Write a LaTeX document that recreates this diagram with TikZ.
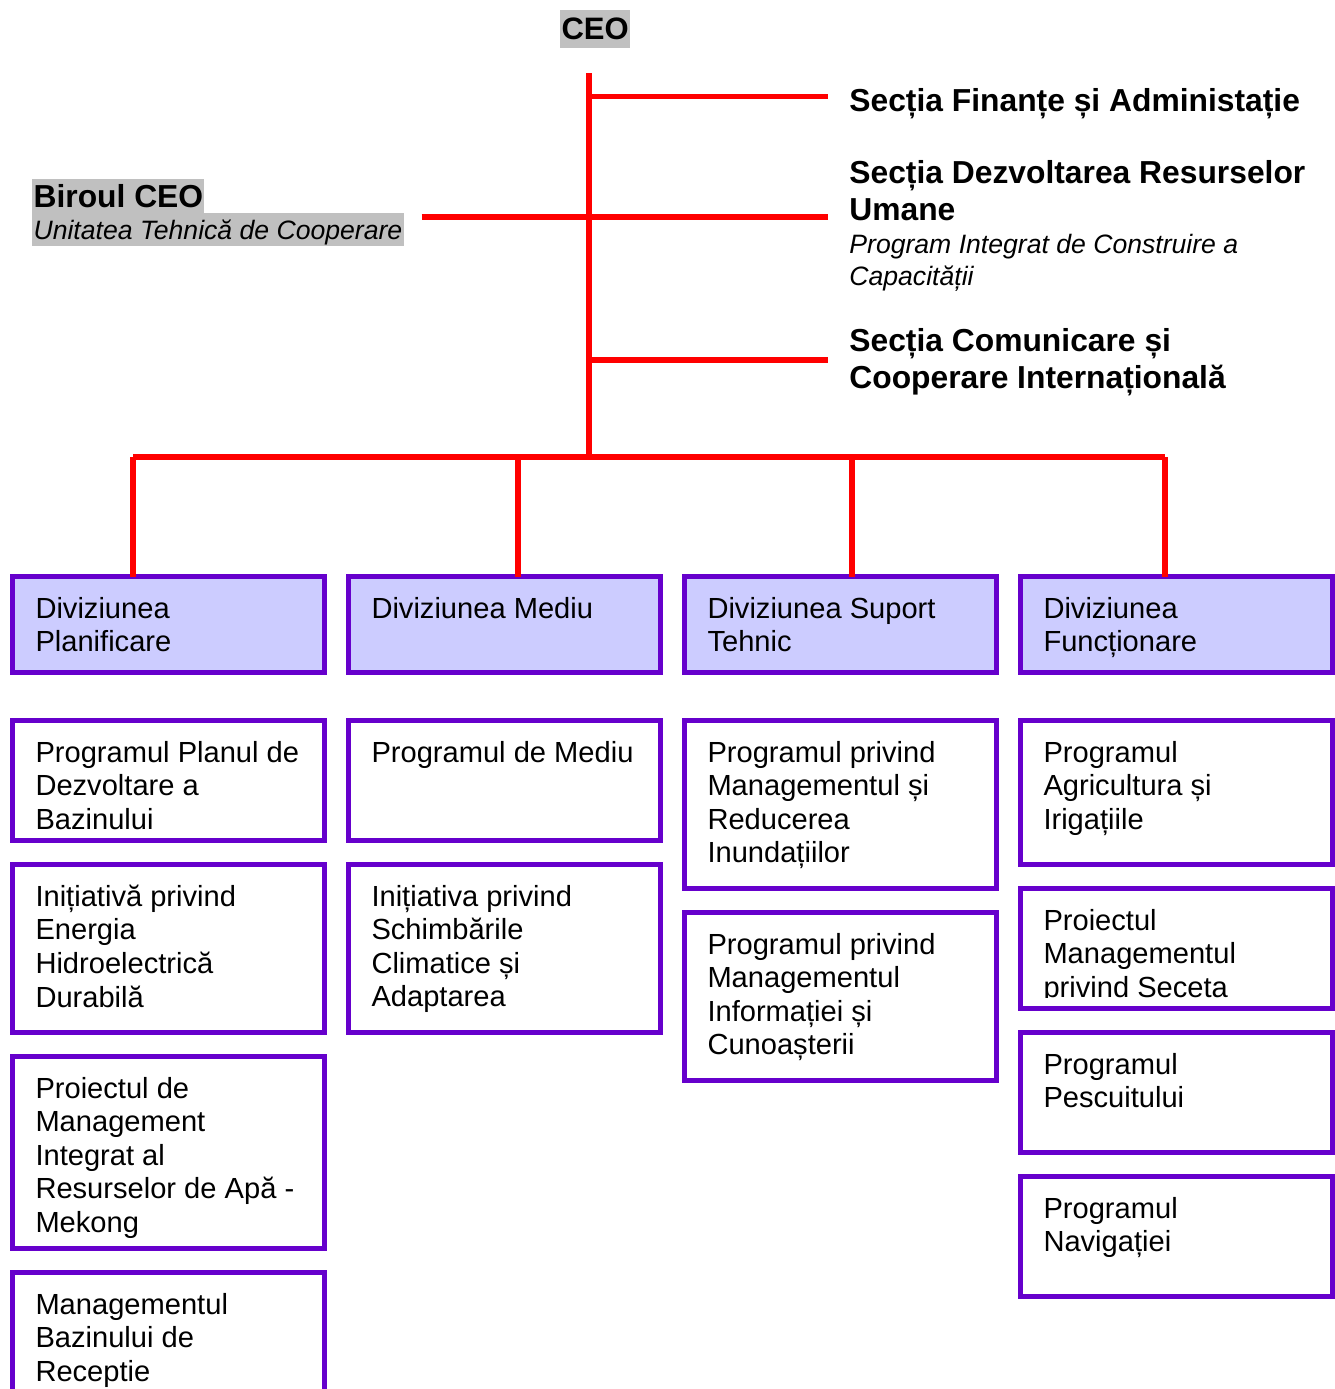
\documentclass[tikz,border=0pt]{standalone}
\usepackage{fontspec}
\setmainfont{Liberation Sans}
\usetikzlibrary{positioning}

\definecolor{boxline}{HTML}{6600CC}
\definecolor{divfill}{HTML}{CCCCFF}
\definecolor{hlgray}{HTML}{C0C0C0}

\tikzset{
  link/.style={red, line width=2.75pt},
  divbox/.style={draw=boxline, fill=divfill, line width=2.5pt, outer sep=0pt, inner sep=0pt,
    anchor=north west, minimum width=156pt, minimum height=48pt},
  progbox/.style={divbox, fill=white},
  boxtext/.style={anchor=north west, inner sep=0pt, align=left, xshift=11.3pt, yshift=-10pt,
    font=\fontsize{14.55}{16.8}\selectfont},
  section/.style={anchor=north west, inner sep=0pt, align=left,
    font=\fontsize{15.9}{18.5}\selectfont\bfseries},
  subnote/.style={anchor=north west, inner sep=0pt, align=left,
    font=\fontsize{13.3}{16}\selectfont\itshape},
  marked/.style={fill=hlgray, anchor=base west, inner ysep=0pt, inner xsep=0.6pt}
}

\begin{document}
\begin{tikzpicture}[x=0.5pt, y=-0.5pt]
  \useasboundingbox (0,0) rectangle (1335,1389);

  % top of the chart
  \node[marked, text height=14.65pt, text depth=4.2pt, font=\fontsize{15.5}{18}\selectfont\bfseries]
    (ceo) at (560,39.3) {CEO};
  \node[marked, text height=13.85pt, text depth=3.15pt, font=\fontsize{15.9}{18.5}\selectfont\bfseries]
    (birou) at (32,207) {Biroul CEO};
  \node[marked, text height=13.1pt, text depth=3.25pt, font=\fontsize{13.3}{16}\selectfont\itshape]
    (birouu) at (32,239.5) {Unitatea Tehnică de Cooperare};

  \node[section] (sfin) at (849,88.5) {Secția Finanțe și Administație};
  \node[section] (sdrum) at (849,160.5) {Secția Dezvoltarea Resurselor\\Umane};
  \node[subnote] (sdrumn) at (849,233.5) {Program Integrat de Construire a\\Capacității};
  \node[section] (scom) at (849,328.5) {Secția Comunicare și\\Cooperare Internațională};

  \coordinate (trunk) at (589,73);
  \coordinate (hub) at (589,457);
  \coordinate (j1) at (589,96.5);
  \coordinate (j2) at (589,217);
  \coordinate (j3) at (589,360);
  \coordinate (b1) at (133,457);
  \coordinate (b2) at (518,457);
  \coordinate (b3) at (852,457);
  \coordinate (b4) at (1165,457);

  \draw[link] (trunk) -- (hub);
  \draw[link, shorten >=10.5pt] (j1) -- (j1 -| sfin.west);
  \draw[link, shorten <=8.8pt, shorten >=10.5pt] (j2 -| birouu.east) -- (j2 -| sdrum.west);
  \draw[link, shorten >=10.5pt] (j3) -- (j3 -| scom.west);
  \draw[link] (b1) -- (b4);

  % divisions
  \node[divbox] (dplan) at (12.5,576.5) {};
  \node[divbox, right=12pt of dplan] (dmed) {};
  \node[divbox, right=12pt of dmed] (dsup) {};
  \node[divbox, right=12pt of dsup] (dfun) {};

  \foreach \b/\d in {b1/dplan, b2/dmed, b3/dsup, b4/dfun}
    \draw[link] (\b) -- (\b |- \d.north);

  \node[boxtext] (tplan) at (dplan.north west) {Diviziunea\\Planificare};
  \node[boxtext] (tmed) at (dmed.north west) {Diviziunea Mediu};
  \node[boxtext] (tsup) at (dsup.north west) {Diviziunea Suport\\Tehnic};
  \node[boxtext] (tfun) at (dfun.north west) {Diviziunea\\Funcționare};

  % programmes, column by column
  \node[progbox, minimum height=60pt, below=24pt of dplan] (p11) {};
  \node[progbox, minimum height=84pt, below=12pt of p11] (p12) {};
  \node[progbox, minimum height=96pt, below=12pt of p12] (p13) {};
  \node[progbox, minimum height=96pt, below=12pt of p13] (p14) {};

  \node[progbox, minimum height=60pt, below=24pt of dmed] (p21) {};
  \node[progbox, minimum height=84pt, below=12pt of p21] (p22) {};

  \node[progbox, minimum height=84pt, below=24pt of dsup] (p31) {};
  \node[progbox, minimum height=84pt, below=12pt of p31] (p32) {};

  \node[progbox, minimum height=72pt, below=24pt of dfun] (p41) {};
  \node[progbox, minimum height=60pt, below=12pt of p41] (p42) {};
  \node[progbox, minimum height=60pt, below=12pt of p42] (p43) {};
  \node[progbox, minimum height=60pt, below=12pt of p43] (p44) {};

  \node[boxtext] (t11) at (p11.north west) {Programul Planul de\\Dezvoltare a\\Bazinului};
  \node[boxtext] (t12) at (p12.north west) {Inițiativă privind\\Energia\\Hidroelectrică\\Durabilă};
  \node[boxtext] (t13) at (p13.north west) {Proiectul de\\Management\\Integrat al\\Resurselor de Apă -\\Mekong};
  \node[boxtext] (t14) at (p14.north west) {Managementul\\Bazinului de\\Receptie};

  \node[boxtext] (t21) at (p21.north west) {Programul de Mediu};
  \node[boxtext] (t22) at (p22.north west) {Inițiativa privind\\Schimbările\\Climatice și\\Adaptarea};

  \node[boxtext] (t31) at (p31.north west) {Programul privind\\Managementul și\\Reducerea\\Inundațiilor};
  \node[boxtext] (t32) at (p32.north west) {Programul privind\\Managementul\\Informației și\\Cunoașterii};

  \node[boxtext] (t41) at (p41.north west) {Programul\\Agricultura și\\Irigațiile};
  \begin{scope}
    \clip (p42.north west) rectangle ([yshift=5.5pt]p42.south east);
    \node[boxtext] (t42) at (p42.north west) {Proiectul\\Managementul\\privind Seceta};
  \end{scope}
  \node[boxtext] (t43) at (p43.north west) {Programul\\Pescuitului};
  \node[boxtext] (t44) at (p44.north west) {Programul\\Navigației};
\end{tikzpicture}
\end{document}
